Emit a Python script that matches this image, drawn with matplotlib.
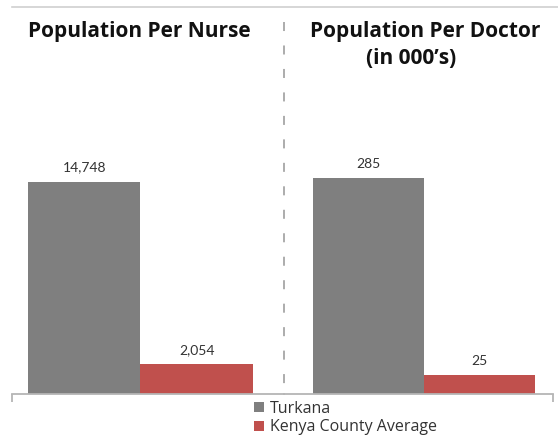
import matplotlib
matplotlib.use("Agg")
import matplotlib.pyplot as plt
from matplotlib.lines import Line2D
from matplotlib.patches import Patch

plt.rcParams['font.family'] = ['Lato', 'DejaVu Sans']

series = ["Turkana", "Kenya County Average"]
colors = ["#7f7f7f", "#c0504d"]
nurse_vals = [14748, 2054]
doctor_vals = [285, 25]
nurse_labels = ["14,748", "2,054"]
doctor_labels = ["285", "25"]

W, H = 558, 442
fig = plt.figure(figsize=(W / 100, H / 100), dpi=100)


def px_axes(x0, x1, y_top, y_bot):
    return fig.add_axes([x0 / W, 1 - y_bot / H, (x1 - x0) / W, (y_bot - y_top) / H])


def draw_panel(ax, vals, labels, xlim, ymax, tick_x):
    ax.bar([0, 1], vals, width=1.0, color=colors, edgecolor="none")
    for i, (v, lab) in enumerate(zip(vals, labels)):
        ax.annotate(lab, (i, v), xytext=(0, 6), textcoords="offset points",
                    ha="center", va="bottom", fontsize=10, color="#333333")
    ax.set_xlim(*xlim)
    ax.set_ylim(0, ymax)
    ax.set_yticks([])
    ax.set_xticks([tick_x])
    ax.set_xticklabels([])
    ax.tick_params(axis="x", length=6, width=1.3, color="#b5b5b5", direction="out")
    for s in ["top", "left", "right"]:
        ax.spines[s].set_visible(False)
    ax.spines["bottom"].set_color("#b5b5b5")
    ax.spines["bottom"].set_linewidth(1.3)
    ax.patch.set_alpha(0)


base = 394
top = 7
ax1 = px_axes(12, 284, top, base)
draw_panel(ax1, nurse_vals, nurse_labels, (-0.642, 1.776), 26900, -0.642)
ax2 = px_axes(284, 553, top, base)
draw_panel(ax2, doctor_vals, doctor_labels, (-0.761, 1.662), 511, 1.662)

# thin rule along the top and dashed divider between the panels
fig.add_artist(Line2D([12 / W, 1], [1 - top / H] * 2, color="#d0d0d0", lw=1.2))
fig.add_artist(Line2D([284 / W] * 2, [1 - 22 / H, 1 - base / H], color="#a6a6a6",
                      lw=1.3, linestyle=(0, (5, 8))))

title_kw = dict(ha="center", va="center", fontsize=15, fontweight="bold",
                color="#111111", family=["Open Sans", "DejaVu Sans"])
fig.text(139 / W, 1 - 31 / H, "Population Per Nurse", **title_kw)
fig.text(425 / W, 1 - 31 / H, "Population Per Doctor", **title_kw)
fig.text(411 / W, 1 - 58 / H, "(in 000\u2019s)", **title_kw)

handles = [Patch(facecolor=c, edgecolor="none") for c in colors]
fig.legend(handles, series, loc="upper left", bbox_to_anchor=(254 / W, 1 - 401 / H),
           frameon=False, handlelength=0.6, handleheight=0.6,
           handletextpad=0.4, labelspacing=0.15, borderaxespad=0, borderpad=0,
           labelcolor="#333333",
           prop={"family": ["Open Sans", "DejaVu Sans"], "size": 11.5})

fig.savefig("out.png", dpi=100)
